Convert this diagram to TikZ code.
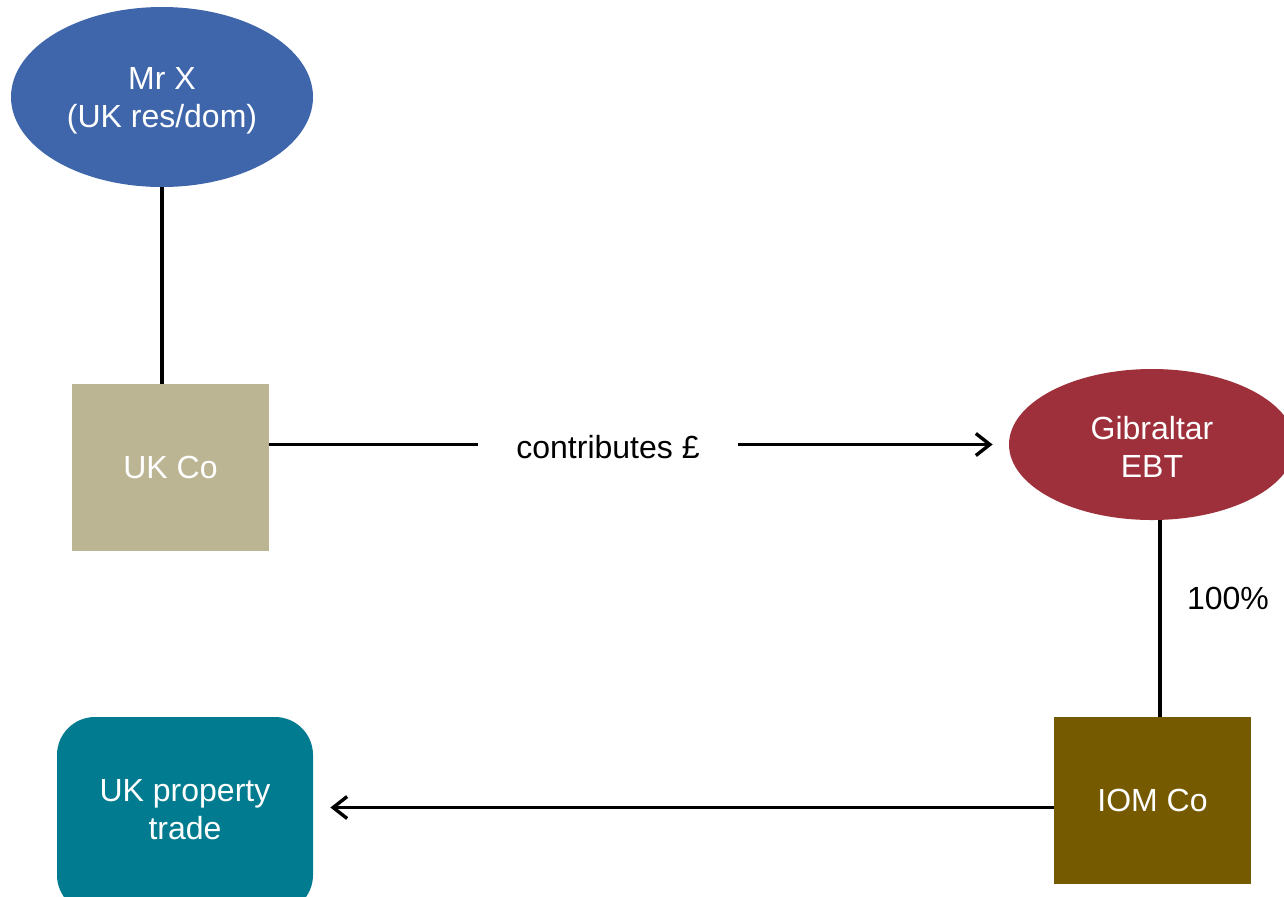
\documentclass[tikz,border=0pt]{standalone}
\usepackage{fontspec}
\setmainfont{Liberation Sans}
\usetikzlibrary{shapes.geometric,arrows.meta}
\definecolor{mrxblue}{HTML}{3F66AA}
\definecolor{ebtred}{HTML}{9E303B}
\definecolor{ukcotan}{HTML}{BCB593}
\definecolor{iomolive}{HTML}{765A00}
\definecolor{propteal}{HTML}{007B8F}
\tikzset{
  every node/.style={font=\fontsize{16}{19}\selectfont, inner sep=0pt},
  person/.style={ellipse, fill=#1, text=white, align=center},
  company/.style={rectangle, fill=#1, text=white, align=center,
    minimum width=98.5pt, minimum height=83.5pt},
  link/.style={line width=1.7pt},
  flow/.style={line width=1.7pt, -{Straight Barb[length=7pt,width=11pt,line width=1.7pt]}},
}
\begin{document}
\begin{tikzpicture}[x=0.5pt, y=-0.5pt]
  \clip (0,0) rectangle (1284,896);
  \fill[white] (0,0) rectangle (1284,896);

  % entities
  \node[person=mrxblue, minimum width=151pt, minimum height=90pt] (mrx) at (162,97) {};
  \node[text=white, align=center] (mrxtext) at (162,101) {Mr X\\(UK res/dom)};
  \node[company=ukcotan] (ukco) at (170.5,467.5) {UK Co};
  \node[person=ebtred, minimum width=143pt, minimum height=75.5pt] (ebt) at (1152,444.5) {};
  \node[text=white, align=center] (ebttext) at (1152,447) {Gibraltar\\EBT};
  \node[company=iomolive] (iom) at (1152.5,800.5) {IOM Co};
  \node[rectangle, rounded corners=19pt, fill=propteal,
    minimum width=128pt, minimum height=98pt] (prop) at (185,815) {};
  \node[text=white, align=center] (proptext) at (185,810) {UK property\\trade};

  % labels
  \node (contrib) at (608,447) {contributes £};
  \node (pct) at (1228,598) {100\%};

  % connectors: the payment line breaks around its label
  \path (ebt.west -| contrib.west) ++(-19pt,0) coordinate (gapl);
  \path (ebt.west -| contrib.east) ++(19pt,0) coordinate (gapr);
  \draw[link] (mrx.south) -- (mrx.south |- ukco.north);
  \draw[link] (ebt.west -| ukco.east) -- (gapl);
  \draw[flow, shorten >=8pt] (gapr) -- (ebt.west);
  \draw[link] ([xshift=4pt]ebt.south) -- ([xshift=4pt]ebt.south |- iom.north);
  \draw[flow, shorten >=8.5pt] ([yshift=-3.5pt]iom.west) -- ([yshift=-3.5pt]iom.west -| prop.east);
\end{tikzpicture}
\end{document}
